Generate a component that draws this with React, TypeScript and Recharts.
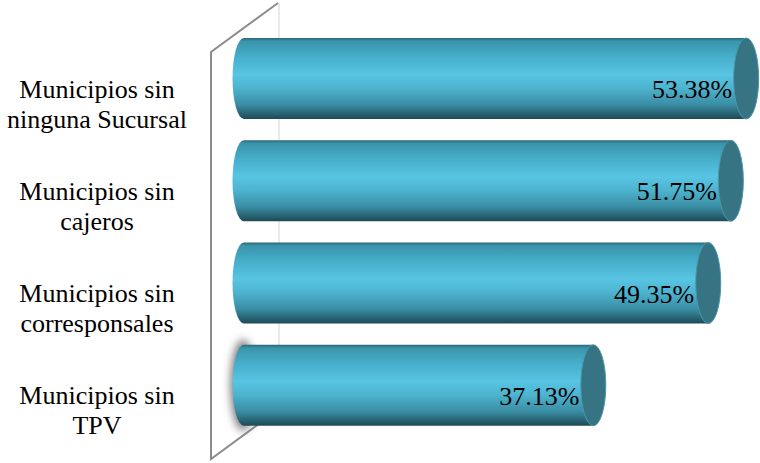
import { BarChart, Bar, XAxis, YAxis, LabelList, Customized } from "recharts";

const categories = [
  "Municipios sin\nninguna Sucursal",
  "Municipios sin\ncajeros",
  "Municipios sin\ncorresponsales",
  "Municipios sin\nTPV",
];
const values = [53.38, 51.75, 49.35, 37.13];

const data = categories.map((name, i) => ({ name, value: values[i] }));

const FONT = "'Liberation Serif', 'Times New Roman', serif";
const CAP_RX = 12.5;

// back wall of the 3D plot (drawn behind the cylinders)
const Wall = () => (
  <g>
    <line x1={279} y1={3} x2={279} y2={412} stroke="#d4d4d4" strokeWidth={1} />
    <polyline points="278,3 211,52 211,459 278,410" fill="none" stroke="#8c8c8c" strokeWidth={2} />
  </g>
);

const Cylinder = (props: any) => {
  const { x, y, width, height, index } = props;
  const ry = height / 2;
  const cy = y + ry;
  const x0 = x;
  const x1 = x + width;
  const gid = `cyl-${index}`;
  const body = `M${x0},${y} L${x1},${y} L${x1},${y + height} L${x0},${y + height} A${CAP_RX - 1},${ry} 0 0 1 ${x0},${y} Z`;
  return (
    <g>
      <defs>
        <linearGradient id={gid} x1="0" y1="0" x2="0" y2="1">
          <stop offset="0%" stopColor="#2a6777" />
          <stop offset="4%" stopColor="#3a94ab" />
          <stop offset="22%" stopColor="#45adc9" />
          <stop offset="45%" stopColor="#58c5e2" />
          <stop offset="62%" stopColor="#4db3cf" />
          <stop offset="82%" stopColor="#3a8ea4" />
          <stop offset="100%" stopColor="#1e4a56" />
        </linearGradient>
        <filter id={`blur-${index}`} x="-1" y="-1" width="3" height="3">
          <feGaussianBlur stdDeviation="4" />
        </filter>
      </defs>
      {index === 3 && (
        <ellipse cx={x0 - 1} cy={cy} rx={CAP_RX} ry={ry + 5} fill="#7a7a7a" filter={`url(#blur-${index})`} />
      )}
      <path d={body} fill={`url(#${gid})`} />
      <ellipse cx={x1} cy={cy} rx={CAP_RX} ry={ry} fill="#367383" stroke="#4b97aa" strokeWidth={1} />
    </g>
  );
};

const ValueLabel = (props: any) => {
  const { x, y, width, height, value } = props;
  return (
    <text x={x + width - 14} y={y + height / 2 + 19.5} textAnchor="end" fontFamily={FONT} fontSize={26} fill="#000">
      {`${Number(value).toFixed(2)}%`}
    </text>
  );
};

const CategoryTick = (props: any) => {
  const { y, payload } = props;
  const lines = String(payload.value).split("\n");
  return (
    <text textAnchor="middle" fontFamily={FONT} fontSize={26} fill="#000">
      {lines.map((line, i) => (
        <tspan key={i} x={97} y={y + 19.5 + i * 30}>{line}</tspan>
      ))}
    </text>
  );
};

export default function App() {
  return (
    <div style={{ position: "absolute", left: 0, top: 0, background: "#fff" }}>
      <BarChart width={760} height={463} data={data} layout="vertical" margin={{ top: 27, right: 8, bottom: 27, left: 0 }}>
        <Customized component={<Wall />} />
        <XAxis type="number" domain={[0, 54]} hide />
        <YAxis type="category" dataKey="name" width={244} axisLine={false} tickLine={false} tick={<CategoryTick />} interval={0} />
        <Bar dataKey="value" barSize={81} shape={<Cylinder />} isAnimationActive={false}>
          <LabelList dataKey="value" content={<ValueLabel />} />
        </Bar>
      </BarChart>
    </div>
  );
}
